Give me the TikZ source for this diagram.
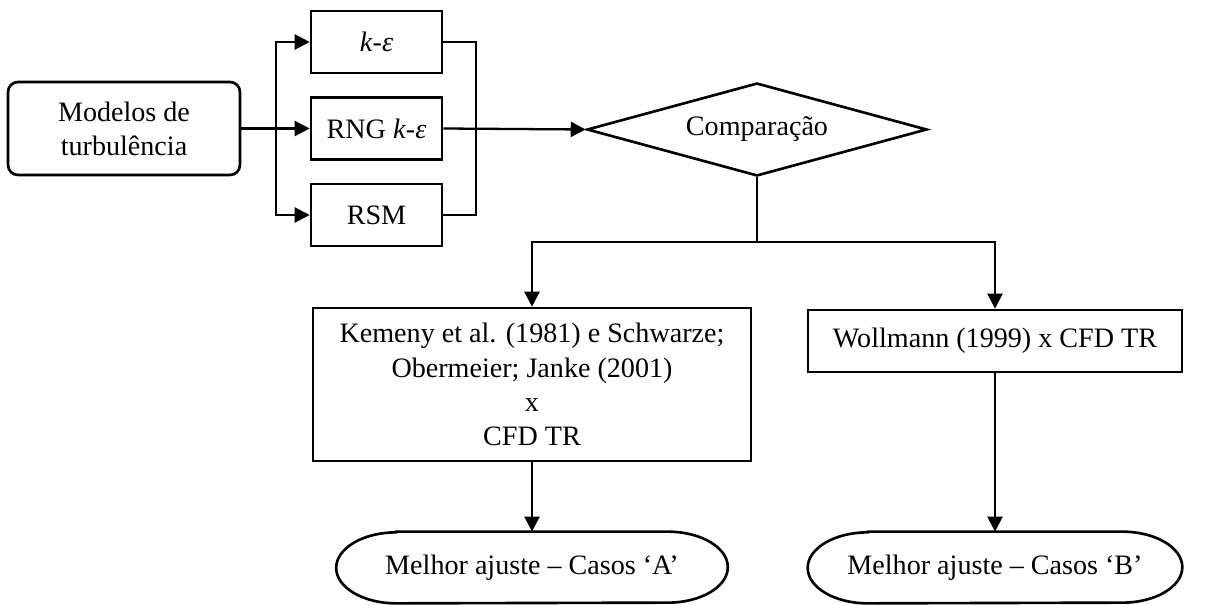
\documentclass[tikz,border=0pt]{standalone}
\usepackage{fontspec}
\setmainfont{Liberation Serif}
\usetikzlibrary{arrows.meta,shapes.geometric}

\begin{document}
\begin{tikzpicture}[
	x=0.02cm, y=-0.02cm,
	font=\fontsize{16}{19.4}\selectfont,
	caixa/.style={draw, line width=1.5pt, inner sep=0pt, align=center},
	seta/.style={line width=1.3pt, -{Triangle[length=0.3cm,width=0.3cm]}},
	linha/.style={line width=1.3pt}
	]
	\useasboundingbox (0,0) rectangle (1211,605);

	% modelos e caixas dos modelos
	\node[caixa, rounded corners=0.2cm, minimum width=4.64cm, minimum height=1.86cm] (modelos) at (124,128.5) {Modelos de\\turbulência};
	\node[caixa, minimum width=2.62cm, minimum height=1.24cm] (ke) at (376.5,42) {\textit{k}-\textit{ε}};
	\node[caixa, minimum width=2.62cm, minimum height=1.24cm] (rng) at (376.5,128.5) {RNG \textit{k}-\textit{ε}};
	\node[caixa, minimum width=2.62cm, minimum height=1.24cm] (rsm) at (376.5,215) {RSM};

	% comparacao
	\node[caixa, diamond, aspect=3.66, minimum width=6.8cm, minimum height=1.86cm] (comp) at (757,129.5) {Comparação};
	\coordinate (divide) at (757,242);

	\node[caixa, minimum width=8.76cm, minimum height=3.06cm] (kemeny) at (532,384.5) {Kemeny et al. (1981) e Schwarze;\\Obermeier; Janke (2001)\\x\\CFD TR};
	\node[caixa, minimum width=7.48cm, minimum height=1.24cm] (woll) at (995,341) {Wollmann (1999) x CFD TR};

	% terminais
	\node[inner sep=0pt, minimum width=7.82cm, minimum height=1.42cm] (casA) at (532,567.5) {Melhor ajuste -- Casos ‘A’};
	\node[inner sep=0pt, minimum width=7.48cm, minimum height=1.42cm] (casB) at (995,567.5) {Melhor ajuste -- Casos ‘B’};
	\foreach \t in {casA,casB}
		\draw[line width=1.5pt] ([xshift=1.2cm]\t.north west) -- ([xshift=-1.2cm]\t.north east)
			arc[start angle=90, end angle=-90, x radius=1.2cm, y radius=0.71cm]
			-- ([xshift=1.2cm]\t.south west)
			arc[start angle=270, end angle=90, x radius=1.2cm, y radius=0.71cm] -- cycle;

	% ligacoes
	\draw[seta] (modelos.east) -- (rng.west);
	\draw[seta] (modelos.east) -- ++(35,0) |- (ke.west);
	\draw[seta] (modelos.east) -- ++(35,0) |- (rsm.west);
	\draw[linha] (ke.east) -- ++(33,0) |- (rsm.east);
	\draw[seta] (rng.east) -- (comp.west);
	\draw[linha] (comp.south) -- (divide);
	\draw[seta] (divide) -| (kemeny.north);
	\draw[seta] (divide) -| (woll.north);
	\draw[seta] (kemeny.south) -- (casA.north);
	\draw[seta] (woll.south) -- (casB.north);
\end{tikzpicture}
\end{document}
